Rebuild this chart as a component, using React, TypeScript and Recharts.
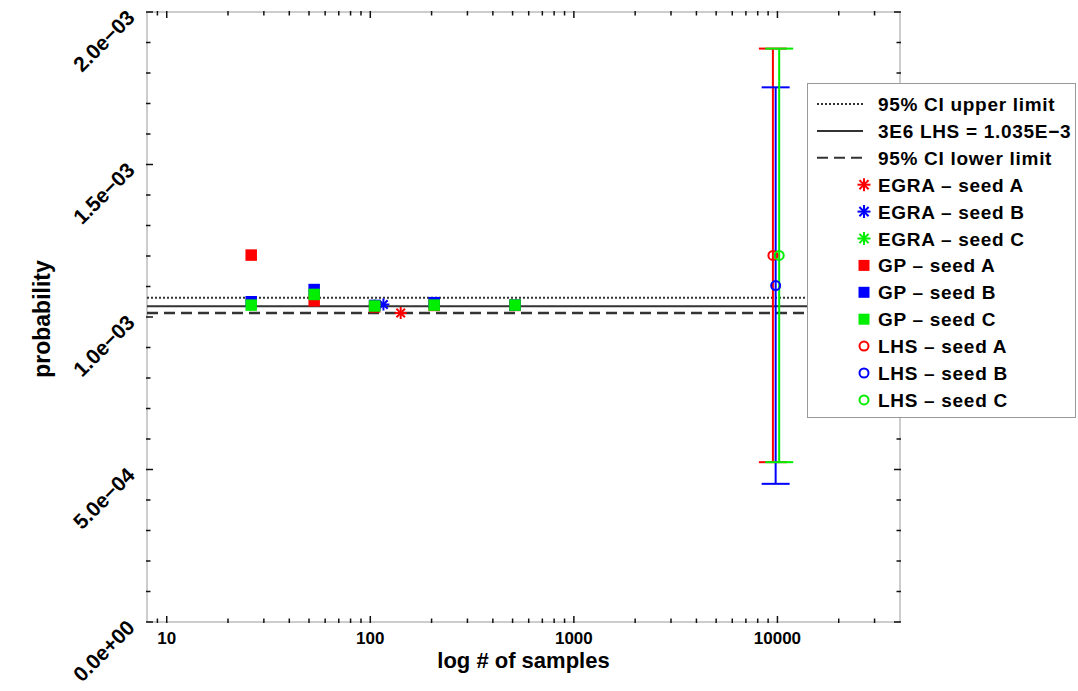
import {
  ScatterChart,
  Scatter,
  XAxis,
  YAxis,
  ReferenceLine,
  ReferenceArea,
  ErrorBar,
  Legend
} from 'recharts';

// x axis (log # of samples)
const xMajorTicks = [10, 100, 1000, 10000];
const xTickLabels = ['10', '100', '1000', '10000'];
const xMinorTicks = [
  9, 20, 30, 40, 50, 60, 70, 80, 90,
  200, 300, 400, 500, 600, 700, 800, 900,
  2000, 3000, 4000, 5000, 6000, 7000, 8000, 9000,
  20000, 30000
];

// y axis (probability)
const yMajorTicks = [0, 0.0005, 0.001, 0.0015, 0.002];
const yTickLabels = ['0.0e+00', '5.0e\u221204', '1.0e\u221203', '1.5e\u221203', '2.0e\u221203'];
const yMinorTicks = [
  0.0001, 0.0002, 0.0003, 0.0004,
  0.0006, 0.0007, 0.0008, 0.0009,
  0.0011, 0.0012, 0.0013, 0.0014,
  0.0016, 0.0017, 0.0018, 0.0019
];

// reference lines
const ciUpper = 1.063e-3;
const lhsReference = 1.035e-3;
const ciLower = 1.013e-3;
const lineLabels = ['95% CI upper limit', '3E6 LHS = 1.035E\u22123', '95% CI lower limit'];

const seedLabels = ['seed A', 'seed B', 'seed C'];
const seedColors = ['#ff0000', '#0000ff', '#00ee00'];

// EGRA, one point per seed
const egraSamples = [141, 116, 105];
const egraValues = [1.013e-3, 1.041e-3, 1.038e-3];

// GP, per seed
const gpSamples = [26, 53, 105, 206, 514];
const gpSeedA = [1.203e-3, 1.053e-3, 1.033e-3, 1.038e-3, 1.038e-3];
const gpSeedB = [1.05e-3, 1.09e-3, 1.038e-3, 1.047e-3, 1.039e-3];
const gpSeedC = [1.039e-3, 1.074e-3, 1.036e-3, 1.039e-3, 1.039e-3];

// LHS with 95% CI, one point per seed
const lhsSamples = [9500, 9800, 10200];
const lhsValues = [1.202e-3, 1.103e-3, 1.202e-3];
const lhsErrors = [0.678e-3, 0.65e-3, 0.678e-3];

const PLOT_W = 753;
const PLOT_H = 610;
const FONT = "'Liberation Sans', Arial, Helvetica, sans-serif";
const LINE_COLOR = '#333';

const xTicks = [...xMajorTicks, ...xMinorTicks].sort((a, b) => a - b);
const yTicks = [...yMajorTicks, ...yMinorTicks].sort((a, b) => a - b);

const egraData = egraSamples.map((x, i) => [{ x, y: egraValues[i] }]);
const gpData = [gpSeedA, gpSeedB, gpSeedC].map((vals) =>
  gpSamples.map((x, i) => ({ x, y: vals[i] }))
);
const lhsData = lhsSamples.map((x, i) => [{ x, y: lhsValues[i], err: lhsErrors[i] }]);

function majorIndex(list: number[], v: number) {
  return list.findIndex((m) => Math.abs(m - v) < 1e-9);
}

function XTick(props: any) {
  const { x, y, payload } = props;
  const idx = majorIndex(xMajorTicks, payload.value);
  const len = idx >= 0 ? 6 : 3.5;
  return (
    <g>
      <line x1={x} x2={x} y1={y + 1} y2={y - len} stroke="#111" strokeWidth={1.5} />
      <line x1={x} x2={x} y1={y - PLOT_H - 1} y2={y - PLOT_H + len} stroke="#111" strokeWidth={1.5} />
      {idx >= 0 && (
        <text x={x} y={y + 22} textAnchor="middle" fontFamily={FONT} fontWeight="bold" fontSize={17} fill="#000">
          {xTickLabels[idx]}
        </text>
      )}
    </g>
  );
}

function YTick(props: any) {
  const { x, y, payload } = props;
  const idx = majorIndex(yMajorTicks, payload.value);
  const len = idx >= 0 ? 6 : 3.5;
  const ax = x - 11;
  const ay = y + 7;
  return (
    <g>
      <line x1={x - 1} x2={x + len} y1={y} y2={y} stroke="#111" strokeWidth={1.5} />
      <line x1={x + PLOT_W + 1} x2={x + PLOT_W - len} y1={y} y2={y} stroke="#111" strokeWidth={1.5} />
      {idx >= 0 && (
        <text
          x={ax}
          y={ay}
          textAnchor="end"
          transform={`rotate(-45, ${ax}, ${ay})`}
          fontFamily={FONT}
          fontWeight="bold"
          fontSize={21}
          fill="#000"
        >
          {yTickLabels[idx]}
        </text>
      )}
    </g>
  );
}

function Asterisk({ cx, cy, color, r = 6 }: any) {
  const d = r * 0.7071;
  return (
    <g stroke={color} strokeWidth={2}>
      <line x1={cx - r} y1={cy} x2={cx + r} y2={cy} />
      <line x1={cx} y1={cy - r} x2={cx} y2={cy + r} />
      <line x1={cx - d} y1={cy - d} x2={cx + d} y2={cy + d} />
      <line x1={cx - d} y1={cy + d} x2={cx + d} y2={cy - d} />
    </g>
  );
}

function Square({ cx, cy, color, s = 11.5 }: any) {
  return <rect x={cx - s / 2} y={cy - s / 2} width={s} height={s} fill={color} />;
}

function Ring({ cx, cy, color, r = 4.5 }: any) {
  return <circle cx={cx} cy={cy} r={r} fill="none" stroke={color} strokeWidth={2} />;
}

function LegendBox() {
  const rowY = (i: number) => 21 + i * 26.9;
  const textX = 71;
  const mx = 57;
  const dashes = ['2 2', undefined, '11 6'];
  const rows: any[] = [];
  lineLabels.forEach((label, i) => {
    rows.push(
      <g key={`l${i}`}>
        <line x1={10} x2={56} y1={rowY(i)} y2={rowY(i)} stroke={LINE_COLOR} strokeWidth={2} strokeDasharray={dashes[i]} />
        <text x={textX} y={rowY(i) + 7} fontFamily={FONT} fontWeight="bold" fontSize={19} letterSpacing={0.7}>
          {label}
        </text>
      </g>
    );
  });
  const groups = ['EGRA', 'GP', 'LHS'];
  groups.forEach((g, gi) => {
    seedLabels.forEach((s, si) => {
      const i = 3 + gi * 3 + si;
      const cy = rowY(i);
      const color = seedColors[si];
      rows.push(
        <g key={`m${i}`}>
          {gi === 0 && <Asterisk cx={mx} cy={cy} color={color} r={6.5} />}
          {gi === 1 && <Square cx={mx} cy={cy} color={color} s={11} />}
          {gi === 2 && <Ring cx={mx} cy={cy} color={color} r={4.5} />}
          <text x={textX} y={cy + 7} fontFamily={FONT} fontWeight="bold" fontSize={19} letterSpacing={0.7}>
            {`${g} \u2013 ${s}`}
          </text>
        </g>
      );
    });
  });
  return (
    <svg width={269} height={335} style={{ display: 'block' }}>
      <rect x={0.5} y={0.5} width={268} height={334} fill="#fff" stroke="#999" />
      {rows}
    </svg>
  );
}

export default function App() {
  return (
    <div style={{ position: 'absolute', left: 0, top: 0, width: 1078, height: 691, background: '#fff' }}>
      <ScatterChart width={1078} height={691} margin={{ top: 12, right: 178, bottom: 0, left: 0 }}>
        <XAxis
          dataKey="x"
          type="number"
          scale="log"
          domain={[8, 40000]}
          allowDataOverflow
          ticks={xTicks}
          interval={0}
          height={69}
          tickSize={0}
          tickMargin={0}
          axisLine={false}
          tick={<XTick />}
          label={() => (
            <text x={523.5} y={668} textAnchor="middle" fontFamily={FONT} fontWeight="bold" fontSize={22} fill="#000">
              log # of samples
            </text>
          )}
        />
        <YAxis
          dataKey="y"
          type="number"
          domain={[0, 0.002]}
          allowDataOverflow
          ticks={yTicks}
          interval={0}
          width={147}
          tickSize={0}
          tickMargin={0}
          axisLine={false}
          tick={<YTick />}
          label={() => (
            <text
              x={50}
              y={319}
              textAnchor="middle"
              transform="rotate(-90, 50, 319)"
              fontFamily={FONT}
              fontWeight="bold"
              fontSize={23}
              fill="#000"
            >
              probability
            </text>
          )}
        />
        <ReferenceArea x1={8} x2={40000} y1={0} y2={0.002} fill="none" stroke="#9a9a9a" strokeWidth={1} ifOverflow="visible" />
        <ReferenceLine y={ciUpper} stroke={LINE_COLOR} strokeWidth={2} strokeDasharray="2 2" />
        <ReferenceLine y={lhsReference} stroke={LINE_COLOR} strokeWidth={2} />
        <ReferenceLine y={ciLower} stroke={LINE_COLOR} strokeWidth={2.5} strokeDasharray="11 6" />
        {egraData.map((d, i) => (
          <Scatter
            key={`egra${i}`}
            name={`EGRA \u2013 ${seedLabels[i]}`}
            data={d}
            isAnimationActive={false}
            shape={(p: any) => <Asterisk cx={p.cx} cy={p.cy} color={seedColors[i]} />}
          />
        ))}
        {gpData.map((d, i) => (
          <Scatter
            key={`gp${i}`}
            name={`GP \u2013 ${seedLabels[i]}`}
            data={d}
            isAnimationActive={false}
            shape={(p: any) => <Square cx={p.cx} cy={p.cy} color={seedColors[i]} />}
          />
        ))}
        {lhsData.map((d, i) => (
          <Scatter
            key={`lhs${i}`}
            name={`LHS \u2013 ${seedLabels[i]}`}
            data={d}
            isAnimationActive={false}
            shape={(p: any) => <Ring cx={p.cx} cy={p.cy} color={seedColors[i]} />}
          >
            <ErrorBar dataKey="err" direction="y" width={14} stroke={seedColors[i]} strokeWidth={2} isAnimationActive={false} />
          </Scatter>
        ))}
        <Legend
          layout="vertical"
          align="center"
          verticalAlign="middle"
          wrapperStyle={{ position: 'absolute', left: 807, top: 83, width: 269, height: 335 }}
          content={() => <LegendBox />}
        />
      </ScatterChart>
    </div>
  );
}
